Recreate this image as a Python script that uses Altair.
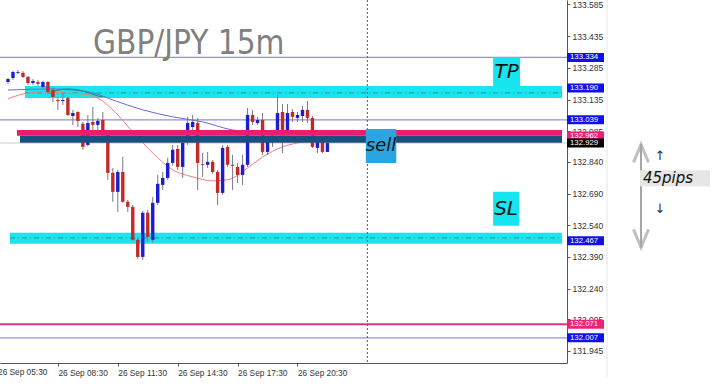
import altair as alt
import pandas as pd

# ---------------- data ----------------
bar_index = list(range(65))
opens = [133.218, 133.237, 133.261, 133.261, 133.242, 133.213, 133.218, 133.194, 133.218, 133.180,
         133.133, 133.128, 133.142, 133.057, 133.076, 133.020, 132.920, 133.029, 133.015, 133.038,
         132.967, 132.788, 132.698, 132.792, 132.651, 132.627, 132.471, 132.390, 132.599, 132.471,
         132.646, 132.731, 132.764, 132.835, 132.901, 132.816, 132.934, 133.005, 133.024, 132.830,
         132.826, 132.840, 132.792, 132.693, 132.911, 132.826, 132.816, 132.778, 132.826, 133.062,
         133.024, 133.038, 132.887, 132.934, 132.991, 133.076, 132.991, 133.076, 133.048, 133.057,
         133.086, 133.048, 132.906, 132.939, 132.887]
highs = [133.237, 133.270, 133.275, 133.270, 133.246, 133.232, 133.228, 133.223, 133.223, 133.190,
         133.147, 133.166, 133.147, 133.086, 133.080, 133.029, 133.062, 133.100, 133.048, 133.076,
         132.982, 132.811, 132.802, 132.863, 132.660, 132.636, 132.480, 132.608, 132.613, 132.674,
         132.778, 132.792, 132.859, 132.920, 132.920, 132.944, 133.053, 133.062, 133.048, 132.882,
         132.887, 132.849, 132.802, 132.920, 132.920, 132.873, 132.835, 132.873, 133.095, 133.086,
         133.053, 133.071, 132.958, 132.977, 133.157, 133.114, 133.114, 133.090, 133.076, 133.105,
         133.128, 133.057, 132.949, 132.944, 132.934]
lows = [133.209, 133.228, 133.256, 133.237, 133.204, 133.204, 133.199, 133.190, 133.161, 133.123,
        133.086, 133.109, 133.057, 133.015, 133.005, 132.897, 132.915, 132.991, 132.991, 132.930,
        132.755, 132.651, 132.603, 132.646, 132.603, 132.466, 132.381, 132.376, 132.461, 132.457,
        132.636, 132.707, 132.755, 132.821, 132.802, 132.764, 132.920, 132.991, 132.707, 132.769,
        132.811, 132.783, 132.636, 132.684, 132.816, 132.707, 132.740, 132.731, 132.816, 133.015,
        133.015, 132.873, 132.873, 132.911, 132.977, 132.882, 132.967, 133.029, 133.029, 133.029,
        133.024, 132.906, 132.882, 132.882, 132.887]
closes = [133.232, 133.265, 133.265, 133.242, 133.213, 133.223, 133.209, 133.218, 133.171, 133.147,
          133.128, 133.133, 133.062, 133.071, 133.034, 132.911, 133.024, 133.015, 133.034, 132.982,
          132.788, 132.698, 132.792, 132.651, 132.627, 132.471, 132.390, 132.599, 132.485, 132.646,
          132.736, 132.764, 132.835, 132.897, 132.816, 132.930, 133.024, 133.029, 132.835, 132.826,
          132.840, 132.792, 132.693, 132.906, 132.826, 132.821, 132.778, 132.826, 133.062, 133.029,
          133.038, 132.887, 132.944, 132.944, 133.071, 132.991, 133.071, 133.053, 133.062, 133.086,
          133.048, 132.911, 132.939, 132.887, 132.929]

# moving averages (read at a few bars)
ma_red_idx = [0, 3, 7, 11, 15, 18, 21, 25, 29, 33, 37, 41, 44, 48, 51, 55, 59, 64]
ma_red_val = [133.138, 133.161, 133.171, 133.166, 133.161, 133.142, 133.086, 132.982, 132.882,
              132.802, 132.769, 132.750, 132.755, 132.811, 132.863, 132.911, 132.934, 132.958]
ma_blue_idx = [0, 9, 17, 21, 27, 33, 39, 45, 52, 64]
ma_blue_val = [133.180, 133.185, 133.166, 133.133, 133.086, 133.053, 133.029, 132.991, 132.977, 132.972]
ma_green_idx = [8, 12, 15, 18, 19]
ma_green_val = [133.166, 133.185, 133.176, 133.152, 133.147]

# x axis
time_tick_pos = [-2, 10, 22, 34, 46, 58]
time_tick_lab = ["26 Sep 05:30", "26 Sep 08:30", "26 Sep 11:30",
                 "26 Sep 14:30", "26 Sep 17:30", "26 Sep 20:30"]
# y axis
price_ticks = [133.585, 133.435, 133.285, 133.135, 132.985, 132.840,
               132.690, 132.540, 132.390, 132.240, 132.095, 131.945]

# horizontal levels
thin_levels = [133.334, 133.039, 132.007]
pink_level = 132.071
bid_level = 132.929
tp_band = (133.199, 133.142, 133.166)     # top, bottom, centre line
sl_band = (132.504, 132.452, 132.480)
entry_pink = (132.991, 132.963)
entry_navy = (132.963, 132.930)

tag_prices = [133.334, 133.190, 133.039, 132.962, 132.929, 132.467, 132.071, 132.007]
tag_colors = ["#1010e8", "#1010e8", "#1010e8", "#f0207a", "#000000", "#1010e8", "#f0207a", "#1010e8"]

X_MIN, X_MAX = -0.6, 111.0
Y_MIN, Y_MAX = 131.888, 133.606

# ---------------- tables ----------------
candles = pd.DataFrame({"i": bar_index, "open": opens, "high": highs, "low": lows, "close": closes})
candles["dir"] = ["up" if c >= o else "down" for o, c in zip(opens, closes)]

xs = alt.Scale(domain=[X_MIN, X_MAX], nice=False, zero=False)
ys = alt.Scale(domain=[Y_MIN, Y_MAX], nice=False, zero=False)

label_expr = "{" + ",".join(f"'{p}':'{l}'" for p, l in zip(time_tick_pos, time_tick_lab)) + "}[datum.value]"

x_axis = alt.Axis(values=time_tick_pos, labelExpr=label_expr, labelAlign="left", title=None,
                  labelFlush=False, labelOverlap=False, tickSize=3, labelPadding=2,
                  labelFont="Liberation Sans", labelFontSize=8.3, labelColor="#333",
                  domainColor="#555", tickColor="#555", grid=False)
y_axis = alt.Axis(orient="right", values=price_ticks, format=".3f", tickSize=3, title=None,
                  labelPadding=2, labelFont="Liberation Sans", labelFontSize=8.5,
                  labelColor="#333", domainColor="#555", tickColor="#555",
                  labelOverlap=False, labelFlush=False, grid=False)


def X(f):
    return alt.X(f, type="quantitative", scale=xs, axis=x_axis, title=None)


def Y(f):
    return alt.Y(f, type="quantitative", scale=ys, axis=y_axis, title=None)


axis_layer = alt.Chart(pd.DataFrame({"i": [X_MIN, X_MAX], "p": [Y_MIN, Y_MAX]})).mark_point(opacity=0).encode(
    x=X("i"), y=Y("p"))

# first time label sits left of the visible range; draw it as text so it is clipped at the edge
first_lab = alt.Chart(pd.DataFrame({"i": [time_tick_pos[0]], "t": [time_tick_lab[0]]})).mark_text(
    font="Liberation Sans", fontSize=8.3, color="#333", align="left", baseline="top").encode(
    x=X("i"), y=alt.value(368), text="t:N")

thin = alt.Chart(pd.DataFrame({"p": thin_levels})).mark_rule(color="#9090e0", strokeWidth=1.2).encode(y=Y("p"))
pink_line = alt.Chart(pd.DataFrame({"p": [pink_level]})).mark_rule(color="#e2358c", strokeWidth=2).encode(y=Y("p"))
bid_line = alt.Chart(pd.DataFrame({"p": [bid_level]})).mark_rule(color="#c8c8d6", strokeWidth=1).encode(y=Y("p"))

bands = pd.DataFrame({
    "x0": [3.4, 0.4], "x1": [X_MAX, X_MAX],
    "top": [tp_band[0], sl_band[0]], "bot": [tp_band[1], sl_band[1]], "mid": [tp_band[2], sl_band[2]],
})
cyan_rect = alt.Chart(bands).mark_rect(color="#1ae4ef").encode(
    x=X("x0"), x2="x1", y=Y("top"), y2="bot")
cyan_mid = alt.Chart(bands).mark_rule(color="#2a9fb0", strokeWidth=1.2, strokeDash=[5, 3, 1, 3]).encode(
    x=X("x0"), x2="x1", y=Y("mid"))

ma_red = alt.Chart(pd.DataFrame({"i": ma_red_idx, "v": ma_red_val})).mark_line(
    color="#f08080", strokeWidth=1, interpolate="monotone").encode(x=X("i"), y=Y("v"))
ma_blue = alt.Chart(pd.DataFrame({"i": ma_blue_idx, "v": ma_blue_val})).mark_line(
    color="#6a6ad8", strokeWidth=1, interpolate="monotone").encode(x=X("i"), y=Y("v"))
ma_green = alt.Chart(pd.DataFrame({"i": ma_green_idx, "v": ma_green_val})).mark_line(
    color="#2a8a55", strokeWidth=1, interpolate="monotone").encode(x=X("i"), y=Y("v"))

wicks = alt.Chart(candles).mark_rule(color="#7a7a7a", strokeWidth=1).encode(
    x=X("i"), y=Y("low"), y2="high")
bodies = alt.Chart(candles).mark_bar(size=3.4).encode(
    x=X("i"), y=Y("open"), y2="close",
    color=alt.Color("dir:N", scale=alt.Scale(domain=["up", "down"], range=["#1c1cd0", "#c62828"]), legend=None))

entry = pd.DataFrame({"x0": [1.8, 2.4], "x1": [X_MAX, X_MAX],
                      "top": [entry_pink[0], entry_navy[0]], "bot": [entry_pink[1], entry_navy[1]],
                      "c": ["#f21a6c", "#1b4e7e"]})
entry_rect = alt.Chart(entry).mark_rect().encode(
    x=X("x0"), x2="x1", y=Y("top"), y2="bot", color=alt.Color("c:N", scale=None))

vline = alt.Chart(pd.DataFrame({"i": [72]})).mark_rule(color="#555", strokeDash=[2, 2], strokeWidth=1).encode(x=X("i"))

boxes = pd.DataFrame({"x0": [71.7, 97.2, 97.2], "x1": [77.8, 102.6, 102.4],
                      "top": [132.996, 133.336, 132.698], "bot": [132.835, 133.194, 132.537],
                      "c": ["#2aa5e0", "#16e5ef", "#16e5ef"], "t": ["sell", "TP", "SL"],
                      "xm": [74.75, 99.9, 99.8], "ym": [132.915, 133.265, 132.617], "fs": [18, 20, 20]})
box_rect = alt.Chart(boxes).mark_rect().encode(
    x=X("x0"), x2="x1", y=Y("top"), y2="bot", color=alt.Color("c:N", scale=None))
box_text = alt.Chart(boxes).mark_text(font="DejaVu Sans", fontStyle="italic", color="#111",
                                      baseline="middle", align="center").encode(
    x=X("xm"), y=Y("ym"), text="t:N", size=alt.Size("fs:Q", scale=None))

title = alt.Chart(pd.DataFrame({"t": ["GBP/JPY 15m"]})).mark_text(
    font="DejaVu Sans Condensed, Roboto, sans-serif", fontSize=33, color="#808080",
    align="left", baseline="alphabetic").encode(
    x=alt.value(93), y=alt.value(54), text="t:N")

tags = pd.DataFrame({"p": tag_prices, "c": tag_colors, "t": [f"{v:.3f}" for v in tag_prices]})
tag_box = alt.Chart(tags).mark_rule(strokeWidth=9, strokeCap="butt").encode(
    y=Y("p"), x=alt.value(567), x2=alt.value(604), color=alt.Color("c:N", scale=None))
tag_txt = alt.Chart(tags).mark_text(font="Liberation Sans", fontSize=7.8, color="white",
                                    align="left", baseline="middle").encode(
    y=Y("p"), x=alt.value(570), text="t:N")

edge = alt.Chart(pd.DataFrame({"a": [0]})).mark_rule(color="#e6e6e6").encode(
    x=alt.value(607), y=alt.value(0), y2=alt.value(377))

# 45 pips annotation
arrow_top, arrow_bot = 132.925, 132.435
shaft = alt.Chart(pd.DataFrame({"a": [arrow_top], "b": [arrow_bot]})).mark_rule(color="#a6a6a6", strokeWidth=2).encode(
    x=alt.value(641), y=Y("a"), y2="b")
heads = alt.Chart(pd.DataFrame({"p": [132.880, 132.478],
                                "s": ["M-1,1.2L0,-1.2L1,1.2", "M-1,-1.2L0,1.2L1,-1.2"]})).mark_point(
    filled=False, color="#a6a6a6", strokeWidth=3, size=225).encode(
    x=alt.value(641), y=Y("p"), shape=alt.Shape("s:N", scale=None))
pips_bg = alt.Chart(pd.DataFrame({"p": [132.762]})).mark_rule(color="#e6e6e6", strokeWidth=16, strokeCap="butt").encode(
    x=alt.value(640), x2=alt.value(710), y=Y("p"))
pips_txt = alt.Chart(pd.DataFrame({"p": [132.762], "t": ["45pips"]})).mark_text(
    font="DejaVu Sans", fontStyle="italic", fontSize=15, color="#111", align="left", baseline="middle").encode(
    x=alt.value(643), y=Y("p"), text="t:N")
small_arrows = alt.Chart(pd.DataFrame({"p": [132.870, 132.616], "t": ["↑", "↓"]})).mark_text(
    font="DejaVu Sans", fontSize=13, color="#333", align="center", baseline="middle").encode(
    x=alt.value(660), y=Y("p"), text="t:N")

chart = alt.layer(
    axis_layer, first_lab, thin, pink_line, bid_line, cyan_rect, cyan_mid, ma_blue, ma_green, ma_red,
    wicks, bodies, entry_rect, vline, box_rect, box_text, title, tag_box, tag_txt, edge,
    shaft, heads, pips_bg, pips_txt, small_arrows
).properties(
    width=567, height=363, autosize="none",
    padding={"left": 0, "top": 0, "right": 155, "bottom": 24},
    background="white"
).configure_view(stroke=None)

chart.save("out.html", embed_options={"renderer": "svg", "actions": False})
